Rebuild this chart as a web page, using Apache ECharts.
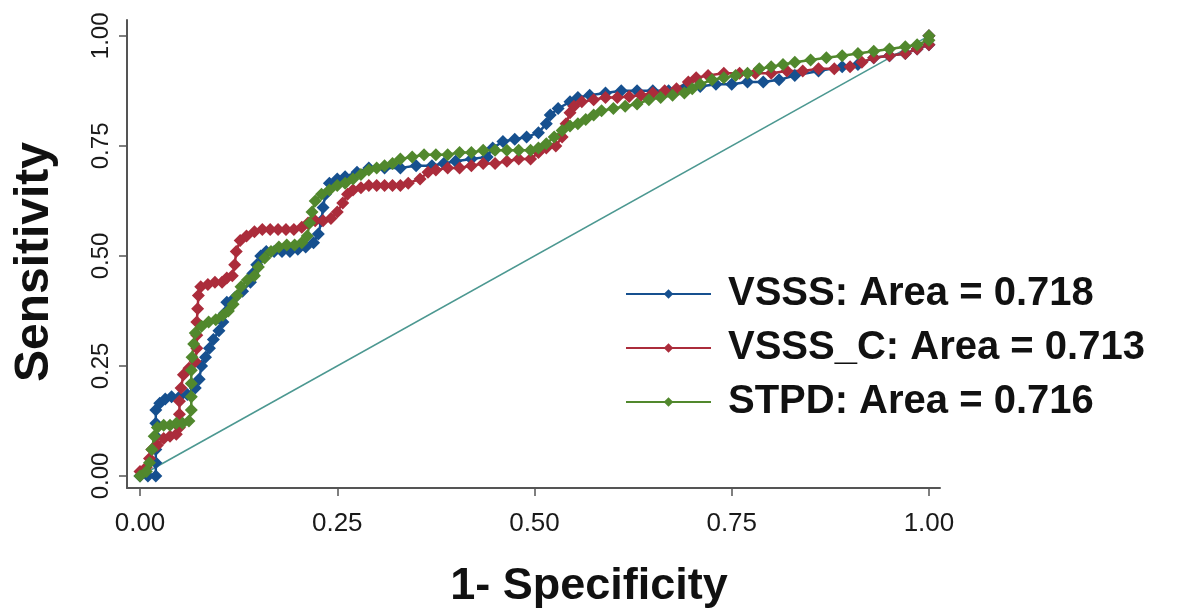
<!DOCTYPE html>
<html>
<head>
<meta charset="utf-8">
<script src="https://cdn.jsdelivr.net/npm/echarts@6/dist/echarts.min.js"></script>
<style>
html,body{margin:0;padding:0;background:#fff;}
#chart{width:1178px;height:614px;}
</style>
</head>
<body>
<div id="chart"></div>
<script>
// ---- data ----
const tickValues = [0, 0.25, 0.5, 0.75, 1];
const seriesNames = ['VSSS: Area = 0.718', 'VSSS_C: Area = 0.713', 'STPD: Area = 0.716'];
const xTitle = '1- Specificity';
const yTitle = 'Sensitivity';
const referenceLine = [[0, 0], [1, 1]];

const vsss = [[0,0],[0.01,0],[0.02,0],[0.02,0.03],[0.02,0.06],[0.02,0.09],[0.02,0.12],[0.02,0.15],[0.025,0.165],[0.032,0.175],[0.04,0.18],[0.05,0.18],[0.06,0.185],[0.07,0.2],[0.075,0.22],[0.078,0.25],[0.083,0.27],[0.088,0.29],[0.093,0.31],[0.1,0.33],[0.105,0.35],[0.107,0.37],[0.11,0.395],[0.12,0.405],[0.13,0.42],[0.14,0.44],[0.143,0.46],[0.148,0.48],[0.153,0.5],[0.16,0.51],[0.17,0.51],[0.18,0.51],[0.19,0.51],[0.2,0.515],[0.21,0.52],[0.22,0.53],[0.226,0.55],[0.23,0.58],[0.232,0.61],[0.235,0.64],[0.24,0.665],[0.25,0.675],[0.26,0.68],[0.275,0.69],[0.29,0.70],[0.31,0.70],[0.33,0.70],[0.35,0.705],[0.37,0.705],[0.385,0.71],[0.40,0.715],[0.42,0.72],[0.44,0.725],[0.447,0.745],[0.46,0.76],[0.475,0.765],[0.49,0.77],[0.505,0.78],[0.515,0.80],[0.52,0.82],[0.53,0.835],[0.545,0.85],[0.555,0.86],[0.57,0.865],[0.59,0.87],[0.61,0.875],[0.63,0.875],[0.65,0.875],[0.67,0.875],[0.69,0.88],[0.71,0.885],[0.73,0.89],[0.75,0.89],[0.77,0.895],[0.79,0.895],[0.81,0.90],[0.83,0.91],[0.86,0.92],[0.89,0.93],[0.91,0.935],[0.93,0.95],[0.95,0.955],[0.97,0.96],[0.985,0.97],[1,0.98],[1,1]];

const vsssC = [[0,0.01],[0.008,0.02],[0.012,0.04],[0.015,0.06],[0.022,0.07],[0.03,0.085],[0.038,0.09],[0.046,0.095],[0.05,0.11],[0.05,0.14],[0.05,0.17],[0.052,0.20],[0.055,0.23],[0.062,0.245],[0.07,0.26],[0.072,0.29],[0.072,0.32],[0.072,0.35],[0.073,0.38],[0.074,0.41],[0.077,0.43],[0.086,0.435],[0.095,0.44],[0.104,0.44],[0.11,0.45],[0.117,0.455],[0.12,0.48],[0.122,0.51],[0.127,0.535],[0.135,0.545],[0.145,0.555],[0.155,0.56],[0.165,0.56],[0.175,0.56],[0.185,0.56],[0.195,0.56],[0.205,0.565],[0.213,0.575],[0.222,0.58],[0.232,0.58],[0.242,0.585],[0.25,0.60],[0.257,0.62],[0.263,0.64],[0.27,0.65],[0.28,0.655],[0.29,0.66],[0.30,0.66],[0.31,0.66],[0.32,0.66],[0.33,0.66],[0.34,0.665],[0.355,0.675],[0.365,0.69],[0.375,0.695],[0.39,0.70],[0.405,0.70],[0.42,0.705],[0.435,0.71],[0.45,0.71],[0.465,0.715],[0.48,0.72],[0.495,0.72],[0.505,0.735],[0.515,0.745],[0.527,0.75],[0.535,0.77],[0.54,0.80],[0.545,0.825],[0.55,0.84],[0.56,0.85],[0.575,0.855],[0.59,0.86],[0.605,0.86],[0.62,0.862],[0.635,0.865],[0.65,0.87],[0.665,0.875],[0.68,0.88],[0.695,0.895],[0.705,0.905],[0.72,0.91],[0.74,0.915],[0.76,0.915],[0.78,0.915],[0.80,0.915],[0.82,0.92],[0.84,0.92],[0.86,0.925],[0.88,0.925],[0.90,0.93],[0.915,0.94],[0.93,0.95],[0.95,0.955],[0.97,0.96],[0.985,0.97],[1,0.98],[1,1]];

const stpd = [[0,0],[0.008,0.01],[0.012,0.03],[0.015,0.06],[0.018,0.09],[0.022,0.11],[0.03,0.115],[0.038,0.115],[0.046,0.12],[0.054,0.12],[0.062,0.125],[0.065,0.15],[0.065,0.18],[0.065,0.21],[0.065,0.24],[0.066,0.27],[0.068,0.30],[0.07,0.325],[0.078,0.34],[0.087,0.35],[0.096,0.355],[0.105,0.365],[0.112,0.375],[0.118,0.39],[0.123,0.41],[0.128,0.43],[0.136,0.445],[0.145,0.455],[0.15,0.475],[0.158,0.495],[0.166,0.51],[0.176,0.52],[0.186,0.525],[0.196,0.525],[0.205,0.53],[0.212,0.545],[0.215,0.575],[0.218,0.60],[0.222,0.625],[0.23,0.64],[0.24,0.65],[0.25,0.66],[0.26,0.665],[0.27,0.675],[0.28,0.685],[0.29,0.695],[0.30,0.70],[0.31,0.705],[0.32,0.71],[0.33,0.72],[0.345,0.725],[0.36,0.73],[0.375,0.73],[0.39,0.73],[0.405,0.735],[0.42,0.735],[0.435,0.74],[0.45,0.74],[0.465,0.74],[0.48,0.74],[0.495,0.74],[0.505,0.745],[0.515,0.755],[0.525,0.77],[0.535,0.785],[0.545,0.795],[0.555,0.80],[0.565,0.81],[0.575,0.82],[0.585,0.83],[0.60,0.835],[0.615,0.84],[0.63,0.845],[0.645,0.855],[0.66,0.86],[0.675,0.865],[0.69,0.87],[0.70,0.88],[0.71,0.89],[0.725,0.90],[0.74,0.905],[0.755,0.91],[0.77,0.915],[0.785,0.925],[0.80,0.93],[0.815,0.935],[0.83,0.94],[0.85,0.945],[0.87,0.95],[0.89,0.955],[0.91,0.96],[0.93,0.965],[0.95,0.97],[0.97,0.975],[0.985,0.98],[1,0.99],[1,1]];

// ---- chart ----
const colors = ['#16508f', '#ab2c3b', '#51882d'];
const FONT = '"Liberation Sans", Arial, Helvetica, sans-serif';
const chart = echarts.init(document.getElementById('chart'), null, {renderer: 'canvas'});

function rocSeries(name, data, color) {
  return {
    name: name, type: 'line', data: data,
    symbol: 'diamond', symbolSize: 13, showSymbol: true,
    lineStyle: {color: color, width: 2.5},
    itemStyle: {color: color},
    z: 3, silent: true
  };
}

const option = {
  animation: false,
  backgroundColor: '#ffffff',
  textStyle: {fontFamily: FONT},
  title: {
    text: xTitle, left: 'center', top: 559,
    textStyle: {fontFamily: FONT, fontSize: 45, fontWeight: 'bold', color: '#111'}
  },
  grid: {left: 127, right: 238, top: 20, bottom: 126, containLabel: false, outerBoundsMode: 'none'},
  legend: {
    orient: 'vertical', left: 620, top: 268,
    itemWidth: 85, itemHeight: 12, itemGap: 12,
    data: seriesNames,
    textStyle: {fontFamily: FONT, fontSize: 40, fontWeight: 'bold', color: '#111', padding: [0, 0, 0, 12], lineHeight: 42},
    selectedMode: false
  },
  xAxis: {
    type: 'value', min: -0.0165, max: 1.014,
    splitLine: {show: false},
    axisLine: {show: true, onZero: false, lineStyle: {color: '#555', width: 2}},
    axisTick: {show: true, length: 8, customValues: tickValues, lineStyle: {color: '#555', width: 1.5}},
    axisLabel: {customValues: tickValues, margin: 23, fontSize: 26, color: '#1a1a1a', fontFamily: FONT,
      formatter: v => v.toFixed(2)}
  },
  yAxis: {
    type: 'value', min: -0.0273, max: 1.036,
    splitLine: {show: false},
    name: yTitle, nameLocation: 'middle', nameRotate: 90, nameGap: 68,
    nameTextStyle: {fontFamily: FONT, fontSize: 48, fontWeight: 'bold', color: '#111', padding: [0, 16, 0, 0]},
    axisLine: {show: true, onZero: false, lineStyle: {color: '#555', width: 2}},
    axisTick: {show: true, length: 8, customValues: tickValues, lineStyle: {color: '#555', width: 1.5}},
    axisLabel: {customValues: tickValues, margin: 14, fontSize: 24, color: '#1a1a1a', fontFamily: FONT, rotate: 90,
      formatter: v => v.toFixed(2)}
  },
  series: [
    {
      name: 'reference', type: 'line', data: referenceLine, symbol: 'none',
      lineStyle: {color: '#4c9891', width: 1.6}, z: 2, silent: true
    },
    rocSeries(seriesNames[0], vsss, colors[0]),
    rocSeries(seriesNames[1], vsssC, colors[1]),
    rocSeries(seriesNames[2], stpd, colors[2])
  ]
};
chart.setOption(option);
</script>
</body>
</html>
